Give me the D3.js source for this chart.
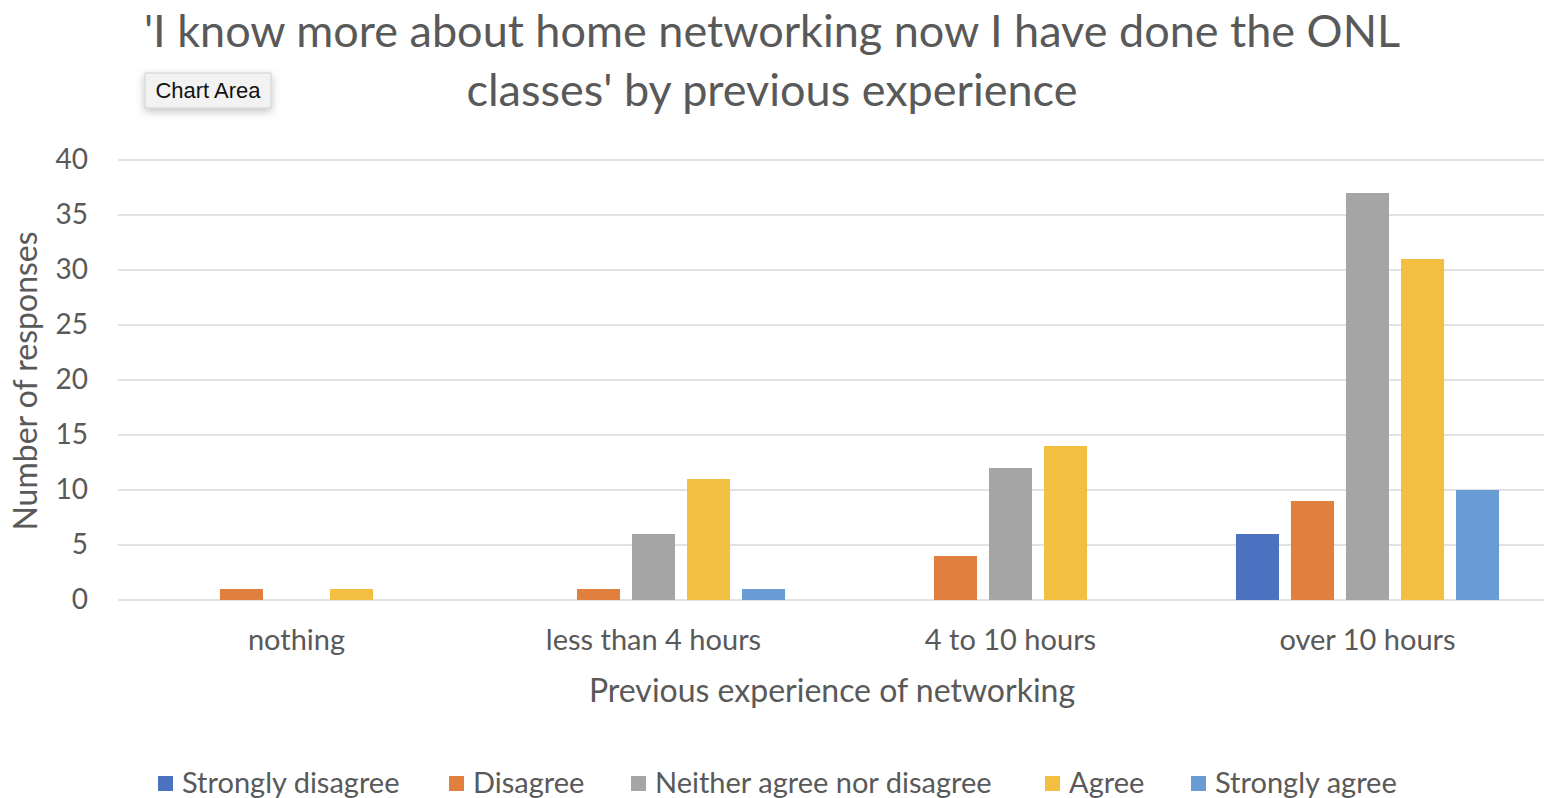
<!DOCTYPE html>
<html>
<head>
<meta charset="utf-8">
<script src="https://cdn.jsdelivr.net/npm/d3@7"></script>
<style>
  body { margin: 0; background: #fff; }
  svg text { font-family: Lato, "Open Sans", sans-serif; fill: #595959; }
</style>
</head>
<body>
<div class="canvas_area"></div>
<script>
// DATA
const categories = ["nothing", "less than 4 hours", "4 to 10 hours", "over 10 hours"];
const seriesNames = ["Strongly disagree", "Disagree", "Neither agree nor disagree", "Agree", "Strongly agree"];
const stronglyDisagree = [0, 0, 0, 6];
const disagree = [1, 1, 4, 9];
const neither = [0, 6, 12, 37];
const agree = [1, 11, 14, 31];
const stronglyAgree = [0, 1, 0, 10];
const yTicks = [0, 5, 10, 15, 20, 25, 30, 35, 40];
const colors = ["#4a72c0", "#e07f3e", "#a5a5a5", "#f3bf41", "#699cd4"];

const seriesValues = [stronglyDisagree, disagree, neither, agree, stronglyAgree];

//USEFUL VARIABLES
const svgwidth = 1544, svgheight = 798;
const margin = { top: 160, right: 0, bottom: 198, left: 118 };
const graphwidth = svgwidth - margin.left - margin.right;
const graphheight = svgheight - margin.top - margin.bottom;

//SVG
const svg = d3.select(".canvas_area").append("svg")
    .attr("width", svgwidth)
    .attr("height", svgheight);

const graph = svg.append("g")
    .attr("transform", `translate(${margin.left}, ${margin.top})`);

// SCALES
const X0 = d3.scaleBand()
    .domain(categories)
    .range([0, graphwidth + 2])
    .paddingInner(0.263)
    .paddingOuter(0.1315);

const X1 = d3.scaleBand()
    .domain(seriesNames)
    .range([0, X0.bandwidth()])
    .paddingInner(0.218)
    .paddingOuter(0);

const Y = d3.scaleLinear()
    .domain([0, 40])
    .range([graphheight, 0]);

// GRIDLINES
graph.append("g")
    .selectAll("line")
    .data(yTicks)
    .enter().append("line")
    .attr("x1", 0)
    .attr("x2", graphwidth)
    .attr("y1", d => Y(d))
    .attr("y2", d => Y(d))
    .style("stroke", "#d9d9d9")
    .style("stroke-width", 1.5);

// Y AXIS
const yAxis = graph.append("g")
    .call(d3.axisLeft(Y).tickValues(yTicks).tickSize(0).tickPadding(30));
yAxis.select(".domain").remove();
yAxis.selectAll("text")
    .style("font-size", "28px")
    .style("fill", "#595959");

// X AXIS
const xAxis = graph.append("g")
    .attr("transform", `translate(0, ${graphheight})`)
    .call(d3.axisBottom(X0).tickSize(0).tickPadding(29));
xAxis.select(".domain").remove();
xAxis.selectAll("text")
    .style("font-size", "29px")
    .style("fill", "#595959");

// BARS
const groups = graph.selectAll(".cat-group")
    .data(categories)
    .enter().append("g")
    .attr("transform", d => `translate(${X0(d)}, 0)`);

groups.selectAll("rect")
    .data((c, ci) => seriesNames.map((s, si) => ({ s: s, i: si, v: seriesValues[si][ci] })))
    .enter().append("rect")
    .attr("x", d => X1(d.s))
    .attr("width", X1.bandwidth())
    .attr("y", d => Y(d.v))
    .attr("height", d => graphheight - Y(d.v))
    .style("fill", d => colors[d.i]);

// TITLES
svg.append("text")
    .attr("x", 772).attr("y", 47)
    .attr("text-anchor", "middle")
    .style("font-size", "45px")
    .text("'I know more about home networking now I have done the ONL");
svg.append("text")
    .attr("x", 772).attr("y", 106)
    .attr("text-anchor", "middle")
    .style("font-size", "45px")
    .text("classes' by previous experience");

svg.append("text")
    .attr("x", 832).attr("y", 702)
    .attr("text-anchor", "middle")
    .style("font-size", "32px")
    .text("Previous experience of networking");

svg.append("text")
    .attr("transform", "translate(37, 381) rotate(-90)")
    .attr("text-anchor", "middle")
    .style("font-size", "32px")
    .text("Number of responses");

// LEGEND
const legendX = [158, 449, 631, 1045, 1191];
const legend = svg.append("g").attr("transform", "translate(0, 776)");
const items = legend.selectAll(".legend-items")
    .data(seriesNames)
    .enter().append("g")
    .attr("transform", (d, i) => `translate(${legendX[i]}, 0)`);
items.append("rect")
    .attr("width", 15).attr("height", 15)
    .style("fill", (d, i) => colors[i]);
items.append("text")
    .attr("x", 24).attr("y", 17)
    .style("font-size", "29px")
    .text(d => d);

// CHART AREA TOOLTIP
const defs = svg.append("defs");
const f = defs.append("filter").attr("id", "shadow").attr("x", "-20%").attr("y", "-40%").attr("width", "140%").attr("height", "200%");
f.append("feDropShadow").attr("dx", 0).attr("dy", 3).attr("stdDeviation", 4).attr("flood-color", "#000").attr("flood-opacity", 0.25);
const tip = svg.append("g").attr("transform", "translate(145, 73)");
tip.append("rect")
    .attr("width", 126).attr("height", 35)
    .style("fill", "#f2f2f2")
    .style("stroke", "#cfcfcf")
    .style("filter", "url(#shadow)");
tip.append("text")
    .attr("x", 63).attr("y", 25)
    .attr("text-anchor", "middle")
    .style("font-family", "'Liberation Sans', Arial, sans-serif")
    .style("font-size", "22px")
    .style("fill", "#111")
    .text("Chart Area");
</script>
</body>
</html>
